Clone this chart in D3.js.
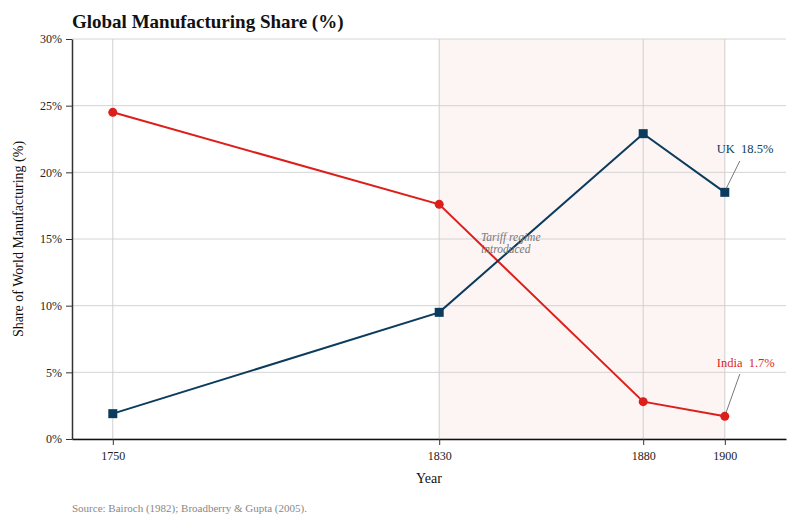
<!DOCTYPE html>
<html><head><meta charset="utf-8">
<script src="https://cdn.jsdelivr.net/npm/d3@7"></script>
<style>body{margin:0;background:#fff}svg{display:block}</style>
</head><body><svg id="c" width="800" height="527"></svg>
<script>
const years = [1750, 1830, 1880, 1900];
const india = [24.5, 17.6, 2.8, 1.7];
const uk = [1.9, 9.5, 22.9, 18.5];
const yTicks = [0, 5, 10, 15, 20, 25, 30];
const shadeRange = [1830, 1900];
const title = "Global Manufacturing Share (%)";
const annotation = ["Tariff regime", "introduced"];

const svg = d3.select("#c");
const font = "'Liberation Serif', 'Times New Roman', serif";
const L = 72, R = 786, T = 39, B = 439;
const x = d3.scaleLinear().domain([1740, 1915]).range([L, R]);
const y = d3.scaleLinear().domain([0, 30]).range([B, T]);
const red = "#dc1f1a", blue = "#0b3c5d";

// shading
svg.append("rect").attr("x", x(shadeRange[0])).attr("y", y(30))
  .attr("width", x(shadeRange[1]) - x(shadeRange[0])).attr("height", y(0) - y(30))
  .attr("fill", "#fdf4f4");

// gridlines
svg.append("g").selectAll("line").data(yTicks).join("line")
  .attr("x1", L).attr("x2", R).attr("y1", d => y(d)).attr("y2", d => y(d))
  .attr("stroke", "#d4d4d4").attr("stroke-width", 1);
svg.append("g").selectAll("line").data(years).join("line")
  .attr("x1", d => x(d)).attr("x2", d => x(d)).attr("y1", T).attr("y2", B)
  .attr("stroke", "#cfcfcf").attr("stroke-width", 1);

// axes
const yAxis = svg.append("g").attr("transform", `translate(${L},0)`)
  .call(d3.axisLeft(y).tickValues(yTicks).tickFormat(d => d + "%").tickSize(6).tickSizeOuter(0).tickPadding(4));
yAxis.select(".domain").attr("stroke", "#333").attr("stroke-width", 1.5);
const xAxis = svg.append("g").attr("transform", `translate(0,${B})`)
  .call(d3.axisBottom(x).tickValues(years).tickFormat(d3.format("d")).tickSize(6).tickSizeOuter(0).tickPadding(6));
xAxis.select(".domain").attr("stroke", "#111").attr("stroke-width", 1.5);
svg.selectAll(".tick text").attr("font-family", font).attr("font-size", 12).attr("fill", "#222");
svg.selectAll(".tick line").attr("stroke", "#333");

// lines
const line = d3.line().x((d, i) => x(years[i])).y(d => y(d));
svg.append("path").datum(india).attr("d", line).attr("fill", "none").attr("stroke", red).attr("stroke-width", 2);
svg.append("path").datum(uk).attr("d", line).attr("fill", "none").attr("stroke", blue).attr("stroke-width", 2);
svg.append("g").selectAll("circle").data(india).join("circle")
  .attr("cx", (d, i) => x(years[i])).attr("cy", d => y(d)).attr("r", 4.5).attr("fill", red);
svg.append("g").selectAll("rect").data(uk).join("rect")
  .attr("x", (d, i) => x(years[i]) - 4.5).attr("y", d => y(d) - 4.5).attr("width", 9).attr("height", 9).attr("fill", blue);

// annotation
svg.append("text").attr("x", 481).attr("y", 241).attr("font-family", font).attr("font-style", "italic")
  .attr("font-size", 11.5).attr("fill", "#777")
  .selectAll("tspan").data(annotation).join("tspan").attr("x", 481).attr("dy", (d, i) => i ? 12 : 0).text(d => d);

// end labels
const lastX = x(years[3]);
svg.append("line").attr("x1", lastX + 15).attr("y1", 161).attr("x2", lastX + 1).attr("y2", y(uk[3]) - 3).attr("stroke", "#555").attr("stroke-width", 0.8);
svg.append("text").attr("x", lastX - 8).attr("y", 153).attr("font-family", font).attr("font-size", 12.5).attr("fill", blue)
  .attr("xml:space", "preserve").text("UK  " + uk[3] + "%");
svg.append("line").attr("x1", lastX + 15).attr("y1", 374).attr("x2", lastX + 1).attr("y2", y(india[3]) - 3).attr("stroke", "#555").attr("stroke-width", 0.8);
svg.append("text").attr("x", lastX - 8).attr("y", 367).attr("font-family", font).attr("font-size", 12.5).attr("fill", red)
  .attr("xml:space", "preserve").text("India  " + india[3] + "%");

// titles
svg.append("text").attr("x", L).attr("y", 28).attr("font-family", font).attr("font-weight", "bold")
  .attr("font-size", 19).attr("fill", "#111").text(title);
svg.append("text").attr("transform", `translate(23,${(T + B) / 2}) rotate(-90)`).attr("text-anchor", "middle")
  .attr("font-family", font).attr("font-size", 14).attr("fill", "#111").text("Share of World Manufacturing (%)");
svg.append("text").attr("x", (L + R) / 2).attr("y", 483).attr("text-anchor", "middle")
  .attr("font-family", font).attr("font-size", 14).attr("fill", "#111").text("Year");
svg.append("text").attr("x", L).attr("y", 512).attr("font-family", font).attr("font-size", 11).attr("fill", "#888")
  .text("Source: Bairoch (1982); Broadberry & Gupta (2005).");
</script></body></html>
